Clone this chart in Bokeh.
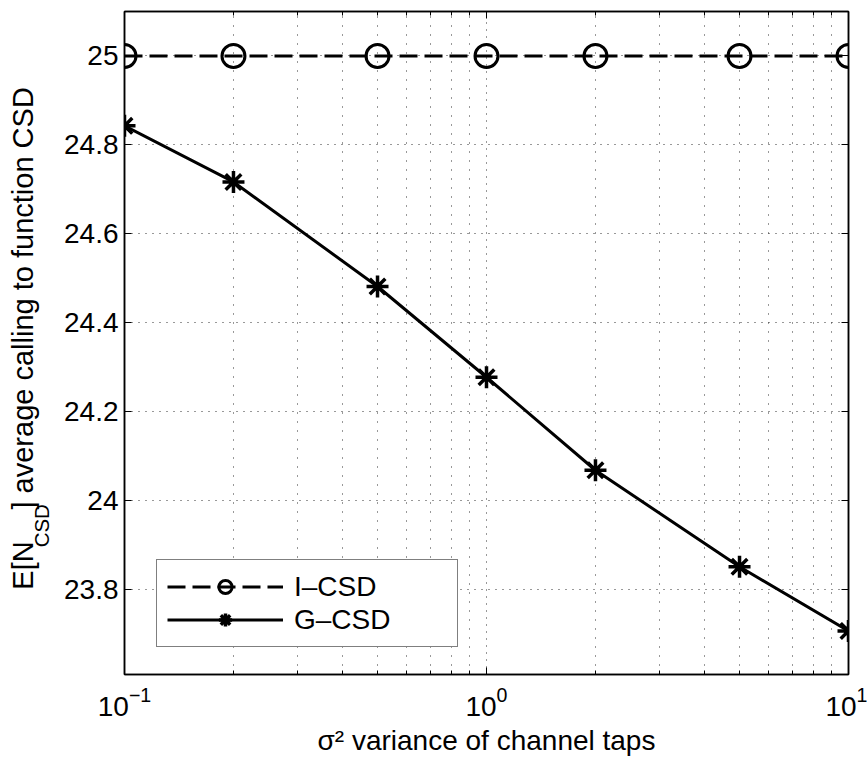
from bokeh.plotting import figure
from bokeh.layouts import row
from bokeh.models import (Range1d, FixedTicker, CustomJSTickFormatter, LinearAxis, LogAxis,
                          Legend)
from bokeh.core.properties import value
from bokeh.embed import file_html
from bokeh.resources import INLINE
import math

# data
sigma2 = [0.1, 0.2, 0.5, 1, 2, 5, 10]
i_csd = [25, 25, 25, 25, 25, 25, 25]
g_csd = [24.843, 24.717, 24.482, 24.278, 24.069, 23.852, 23.708]
x_major = [0.1, 1, 10]
x_minor = [0.2, 0.3, 0.4, 0.5, 0.6, 0.7, 0.8, 0.9, 2, 3, 4, 5, 6, 7, 8, 9]
y_ticks = [23.8, 24.0, 24.2, 24.4, 24.6, 24.8, 25.0]
x_title = "σ² variance of channel taps"
y_title_parts = ["E[N", "CSD", "] average calling to function CSD"]

FONT = "Liberation Sans"
FS = "28px"
H = 758
LW = 60  # width of the y-title strip

# ---------------- y title strip ----------------
yl = figure(width=LW, height=H, x_range=Range1d(0, LW), y_range=Range1d(0, H),
            output_backend="svg", toolbar_location=None,
            x_axis_location=None, y_axis_location=None,
            min_border=0, min_border_left=0, min_border_right=0,
            min_border_top=0, min_border_bottom=0)
yl.grid.visible = False
yl.outline_line_color = None
yl.background_fill_color = "white"
yl.border_fill_color = "white"

main_fs = 29
sub_fs = 20.5
base_x = 22
sub_x = 41
y_start = 97
w_EN = 1.667 * main_fs
w_sub = 2.111 * sub_fs
yl.text(x=[base_x], y=[y_start], text=[y_title_parts[0]], angle=math.pi / 2,
        text_align="left", text_baseline="alphabetic", text_font=value(FONT),
        text_font_size=value(f"{main_fs}px"), text_color="black")
yl.text(x=[sub_x], y=[y_start + w_EN], text=[y_title_parts[1]], angle=math.pi / 2,
        text_align="left", text_baseline="alphabetic", text_font=value(FONT),
        text_font_size=value(f"{sub_fs}px"), text_color="black")
yl.text(x=[base_x], y=[y_start + w_EN + w_sub], text=[y_title_parts[2]], angle=math.pi / 2,
        text_align="left", text_baseline="alphabetic", text_font=value(FONT),
        text_font_size=value(f"{main_fs}px"), text_color="black")

# ---------------- main plot ----------------
p = figure(width=867 - LW, height=H, x_axis_type="log",
           x_range=Range1d(0.1, 10), y_range=Range1d(23.61, 25.1),
           output_backend="svg", toolbar_location=None,
           min_border_left=124 - LW, min_border_right=19, min_border_top=11,
           min_border_bottom=83)
p.background_fill_color = "white"
p.border_fill_color = "white"
p.outline_line_color = "black"
p.outline_line_width = 1.5

xt = FixedTicker(ticks=x_major, minor_ticks=x_minor)
yt = FixedTicker(ticks=y_ticks)

xa = p.xaxis[0]
xa.ticker = xt
xa.major_tick_in = 7
xa.major_tick_out = 0
xa.minor_tick_in = 4
xa.minor_tick_out = 0
xa.major_label_text_font = FONT
xa.major_label_text_font_size = FS
xa.major_label_text_color = "black"
xa.major_label_standoff = 12
xa.axis_line_color = "black"
xa.axis_line_width = 1.5
xa.axis_label = x_title
xa.axis_label_text_font = FONT
xa.axis_label_text_font_size = FS
xa.axis_label_text_font_style = "normal"
xa.axis_label_text_color = "black"
xa.axis_label_standoff = 6

ya = p.yaxis[0]
ya.ticker = yt
ya.formatter = CustomJSTickFormatter(code="return Number(tick.toFixed(1)).toString()")
ya.major_tick_in = 7
ya.major_tick_out = 0
ya.minor_tick_line_color = None
ya.major_label_text_font = FONT
ya.major_label_text_font_size = FS
ya.major_label_text_color = "black"
ya.major_label_standoff = 6
ya.axis_line_color = "black"
ya.axis_line_width = 1.5

blank = CustomJSTickFormatter(code="return ''")
ra = LinearAxis(ticker=yt, formatter=blank, major_tick_in=7, major_tick_out=0,
                minor_tick_line_color=None, major_label_standoff=0,
                major_label_text_font_size="1px", axis_line_color="black", axis_line_width=1.5)
p.add_layout(ra, "right")
ta = LogAxis(ticker=xt, formatter=blank, major_tick_in=7, major_tick_out=0,
             minor_tick_in=4, minor_tick_out=0, major_label_standoff=0,
             major_label_text_font_size="1px", axis_line_color="black", axis_line_width=1.5)
p.add_layout(ta, "above")

p.xgrid.ticker = xt
p.ygrid.ticker = yt
for g in (p.xgrid, p.ygrid):
    g.grid_line_color = "#333333"
    g.grid_line_width = 1
    g.grid_line_dash = "1 6"
p.xgrid.minor_grid_line_color = "#333333"
p.xgrid.minor_grid_line_width = 1
p.xgrid.minor_grid_line_dash = "1 8"

l1 = p.line(sigma2, i_csd, line_color="black", line_width=3, line_dash="18 7")
m1 = p.scatter(sigma2, i_csd, marker="circle", size=23, fill_color=None,
               line_color="black", line_width=3)
l2 = p.line(sigma2, g_csd, line_color="black", line_width=3)
m2 = p.scatter(sigma2, g_csd, marker="asterisk", size=22, line_color="black", line_width=3.5)

legend = Legend(items=[("I–CSD", [l1, m1]), ("G–CSD", [l2, m2])],
                location=(32, 27), padding=10, spacing=0,
                glyph_width=116, glyph_height=33, label_height=33, label_width=153,
                label_standoff=11, label_text_font=FONT, label_text_font_size=FS,
                label_text_color="black", border_line_color="black", border_line_width=1.5,
                background_fill_color="white", background_fill_alpha=1.0,
                label_text_baseline="middle")
p.add_layout(legend, "center")

layout = row(yl, p, spacing=0)
open("out.html", "w").write(file_html(layout, INLINE))
